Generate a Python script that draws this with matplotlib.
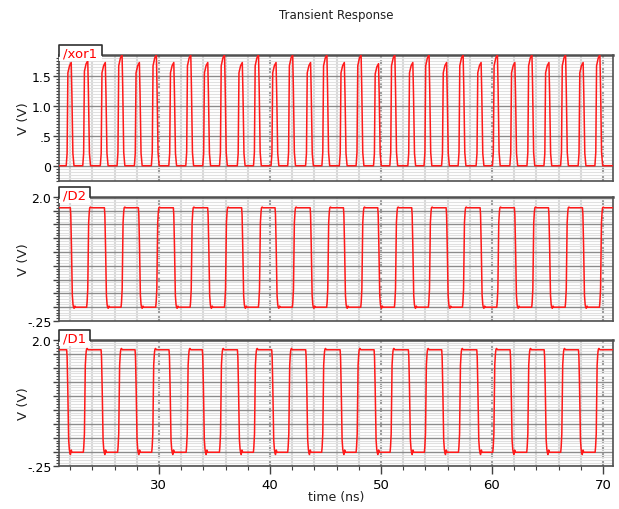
import numpy as np
import matplotlib
matplotlib.use("Agg")
import matplotlib.pyplot as plt
from matplotlib.patches import Rectangle
from matplotlib.ticker import MultipleLocator, FixedLocator, FuncFormatter

# time window (ns)
t_start, t_end = 21.0, 70.9

# D1 edges (ns)
d1_fall = [21.83, 24.93, 27.99, 31.05, 34.05, 37.21, 40.30, 43.36, 46.46, 49.52,
           52.61, 55.61, 58.77, 61.77, 64.84, 67.93]
d1_rise = [23.33, 26.42, 29.49, 32.59, 35.59, 38.65, 41.74, 44.80, 47.90, 50.96,
           54.05, 57.12, 60.21, 63.27, 66.33, 69.43]
d1_high, d1_low = 1.82, -0.01

# D2 edges (ns)
d2_fall = [22.16, 25.23, 28.29, 31.44, 34.53, 37.59, 40.60, 43.76, 46.76, 49.85,
           52.91, 56.01, 59.07, 62.16, 65.23, 68.29]
d2_rise = [23.63, 26.73, 29.85, 32.95, 36.04, 39.10, 42.16, 45.25, 48.32, 51.35,
           54.41, 57.48, 60.57, 63.72, 66.73, 69.82]
d2_high, d2_low = 1.80, 0.0

# xor1 pulses: centre time (ns) and peak (V)
xor_center = [22.00, 23.49, 25.07, 26.58, 28.14, 29.67, 31.24, 32.77, 34.30, 35.81,
              37.41, 38.87, 40.45, 41.95, 43.56, 45.03, 46.60, 48.11, 49.68, 51.15,
              52.77, 54.23, 55.81, 57.30, 58.92, 60.39, 61.96, 63.50, 65.03, 66.53,
              68.11, 69.62]
xor_peak = [1.72, 1.75, 1.72, 1.85, 1.72, 1.85, 1.72, 1.85, 1.72, 1.85,
            1.72, 1.85, 1.72, 1.85, 1.72, 1.85, 1.72, 1.85, 1.70, 1.85,
            1.72, 1.85, 1.72, 1.85, 1.72, 1.85, 1.72, 1.85, 1.72, 1.85,
            1.72, 1.85]

x_major = [30, 40, 50, 60, 70]
xor_yticks = [0, 0.5, 1.0, 1.5]
xor_yticklabels = ["0", ".5", "1.0", "1.5"]
d_ylabels = {2.0: "2.0", -0.25: "-.25"}

# edge shapes (offset ns, fraction of swing)
fall_off = [-0.14, -0.10, -0.04, 0.04, 0.10, 0.14]
fall_frac = [1.0, 0.93, 0.62, 0.12, 0.03, 0.0]
rise_off = [-0.14, -0.10, -0.04, 0.04, 0.10, 0.14]
rise_frac = [0.0, 0.05, 0.18, 0.85, 0.96, 1.0]
pulse_off = [-0.35, -0.27, -0.20, -0.05, 0.10, 0.16, 0.25, 0.35]
pulse_frac = [0.0, 0.12, 0.90, 0.97, 1.0, 0.70, 0.12, 0.0]


def square_wave(falls, rises, high, low, ring):
    edges = sorted([(t, "f") for t in falls] + [(t, "r") for t in rises])
    ts, vs = [t_start], [high]
    for t, kind in edges:
        if kind == "f":
            ts += [t + o for o in fall_off]
            vs += [low + f * (high - low) for f in fall_frac]
            ts += [t + 0.2, t + 0.27, t + 0.34]
            vs += [low - ring, low + ring, low]
        else:
            ts += [t + o for o in rise_off]
            vs += [low + f * (high - low) for f in rise_frac]
            ts += [t + 0.2, t + 0.28]
            vs += [high + ring * 0.6, high]
    ts.append(t_end)
    vs.append(vs[-1])
    return ts, vs


def pulses(centers, peaks):
    ts, vs = [t_start], [0.0]
    for c, p in zip(centers, peaks):
        ts += [c + o for o in pulse_off]
        vs += [f * p for f in pulse_frac]
    ts.append(t_end)
    vs.append(0.0)
    return ts, vs


W, H = 619, 510
fig = plt.figure(figsize=(W / 100, H / 100), dpi=100)
fig.patch.set_facecolor("white")

left, right = 59, 613
panels = [(56, 182), (197.7, 322), (340.7, 466.7)]
axes = []
for top, bot in panels:
    ax = fig.add_axes([left / W, 1 - bot / H, (right - left) / W, (bot - top) / H])
    axes.append(ax)


def style(ax, ylim, show_x):
    ax.set_xlim(t_start, t_end)
    ax.set_ylim(*ylim)
    ax.set_facecolor("white")
    ax.xaxis.set_major_locator(FixedLocator(x_major))
    ax.xaxis.set_minor_locator(MultipleLocator(2))
    ax.yaxis.set_minor_locator(MultipleLocator(0.05))
    ax.grid(which="minor", axis="y", color="#e0e0e0", lw=0.8)
    ax.grid(which="major", axis="y", color="#8c8c8c", lw=1.0)
    ax.grid(which="minor", axis="x", color="#d8d8d8", lw=1.5)
    ax.grid(which="major", axis="x", color="#9a9a9a", lw=1.5, ls=(0, (2.5, 1.2)))
    ax.set_axisbelow(True)
    for s in ax.spines.values():
        s.set_color("#505050")
        s.set_linewidth(1.2)
    ax.spines["top"].set_linewidth(1.8)
    ax.tick_params(axis="y", which="major", length=4.5, width=1, color="#404040",
                   labelsize=9, pad=1, direction="out")
    ax.tick_params(axis="y", which="minor", length=2.2, width=0.8, color="#404040",
                   direction="out")
    if show_x:
        ax.tick_params(axis="x", which="major", length=6, width=1, color="#404040",
                       labelsize=9.5, pad=3)
        ax.tick_params(axis="x", which="minor", length=3, width=0.8, color="#404040")
    else:
        ax.tick_params(axis="x", which="both", length=0, labelbottom=False)


def add_tab(ax, name, w_px, top, bot):
    hp = bot - top
    wp = right - left
    w = w_px / wp
    ax.add_patch(Rectangle((0, 1 - 6 / hp), w, 16 / hp, transform=ax.transAxes,
                           facecolor="white", edgecolor="none", clip_on=False, zorder=5))
    ax.plot([0, 0, w, w], [1 - 1 / hp, 1 + 10 / hp, 1 + 10 / hp, 1],
            transform=ax.transAxes, color="#303030", lw=1.2, clip_on=False, zorder=6)
    ax.text(4 / wp, 1 + 2 / hp, name, transform=ax.transAxes, color="#ff0000",
            fontsize=9.5, ha="left", va="center", zorder=7)


line_kw = dict(color="#ff1a1a", lw=1.1, zorder=3)

# xor1
ax = axes[0]
style(ax, (-0.255, 1.845), False)
ax.set_yticks(xor_yticks)
ax.set_yticklabels(xor_yticklabels)
tx, vx = pulses(xor_center, xor_peak)
ax.plot(tx, vx, **line_kw)
add_tab(ax, "/xor1", 43, *panels[0])

# D2 and D1
fmt = FuncFormatter(lambda v, p: d_ylabels.get(round(v, 2), ""))
for ax, name, (fa, ri, hi, lo, ring), (top, bot), show in [
        (axes[1], "/D2", (d2_fall, d2_rise, d2_high, d2_low, 0.02), panels[1], False),
        (axes[2], "/D1", (d1_fall, d1_rise, d1_high, d1_low, 0.04), panels[2], True)]:
    style(ax, (-0.25, 2.0), show)
    ax.yaxis.set_major_locator(MultipleLocator(0.25))
    ax.yaxis.set_major_formatter(fmt)
    ts, vs = square_wave(fa, ri, hi, lo, ring)
    ax.plot(ts, vs, **line_kw)
    add_tab(ax, name, 31, top, bot)

for top, bot in panels:
    fig.text(24 / W, 1 - (top + bot) / 2 / H, "V (V)", rotation=90, ha="center",
             va="center", fontsize=9.5, color="#202020")

fig.text(336 / W, 1 - 15 / H, "Transient Response", ha="center", va="center",
         fontsize=8.5, color="#202020")
fig.text(336 / W, 1 - 498 / H, "time (ns)", ha="center", va="center",
         fontsize=9, color="#202020")

fig.savefig("out.png", dpi=100)
